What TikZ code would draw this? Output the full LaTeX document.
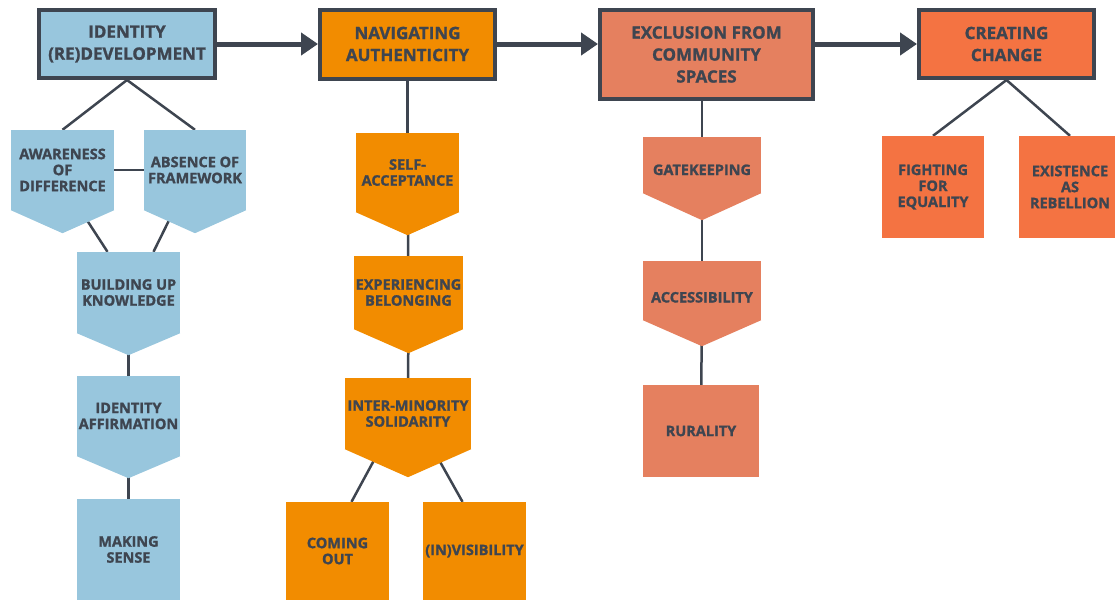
\documentclass[tikz,border=0pt]{standalone}
\usepackage{fontspec}
\setmainfont{Open Sans}[BoldFeatures={FakeBold=1.3}]
\usepackage{tikz}
\usetikzlibrary{arrows.meta}
\usetikzlibrary{backgrounds}
\definecolor{ink}{HTML}{3E4550}
\definecolor{idblue}{HTML}{98C6DD}
\definecolor{navorange}{HTML}{F28C00}
\definecolor{exsalmon}{HTML}{E5805F}
\definecolor{chred}{HTML}{F47342}

\tikzset{
  theme/.style={draw=ink, line width=4pt, fill=#1, align=center, inner sep=0pt,
    text=ink, font=\bfseries\fontsize{17}{22}\selectfont},
  sub/.style={fill=#1, align=center, inner sep=0pt, minimum width=103pt,
    text=ink, font=\bfseries\fontsize{14.5}{16}\selectfont},
  link/.style={draw=ink, line width=2.5pt},
  flow/.style={draw=ink, line width=5pt, -{Triangle[length=17pt,width=22pt]}},
}

\begin{document}
\begin{tikzpicture}[x=1pt,y=-1pt]
        \useasboundingbox (0,0) rectangle (1115,600);
        % themes
        \node[theme=idblue, minimum width=176pt, minimum height=68pt] (idd) at (127,44) {IDENTITY\\(RE)DEVELOPMENT};
        \node[theme=navorange, minimum width=175pt, minimum height=69pt] (nav) at (407.5,44) {NAVIGATING\\AUTHENTICITY};
        \node[theme=exsalmon, minimum width=213pt, minimum height=89pt] (exc) at (706.5,54.5) {EXCLUSION FROM\\COMMUNITY\\SPACES};
        \node[theme=chred, minimum width=175pt, minimum height=68pt] (cre) at (1006.5,44) {CREATING\\CHANGE};
        \draw[flow] (idd.east) -- (nav.west);
        \draw[flow] (nav.east) -- (nav.east -| exc.west);
        \draw[flow] (exc.east |- cre.west) -- (cre.west);
        %%
        \node[sub=idblue, minimum height=80pt] (aw) at (62.5,170) {AWARENESS\\OF\\DIFFERENCE};
        \node[sub=idblue, minimum width=102pt, minimum height=80pt] (ab) at (195,170) {ABSENCE OF\\FRAMEWORK};
        \node[sub=idblue, minimum height=81pt] (bu) at (128.5,292.5) {BUILDING UP\\KNOWLEDGE};
        \node[sub=idblue, minimum height=80pt] (ia) at (128.5,416) {IDENTITY\\AFFIRMATION};
        \node[sub=idblue, minimum height=101pt] (ms) at (128.5,549.5) {MAKING\\SENSE};
        %%
        \node[sub=navorange, minimum height=79pt] (sa) at (407.5,172.5) {SELF-\\ACCEPTANCE};
        \node[sub=navorange, minimum width=109pt, minimum height=73pt] (eb) at (408.5,292.5) {EXPERIENCING\\BELONGING};
        \node[sub=navorange, minimum width=126pt, minimum height=71pt] (im) at (408,413.5) {INTER-MINORITY\\SOLIDARITY};
        \node[sub=navorange, minimum height=98pt] (co) at (337.5,551) {COMING\\OUT};
        \node[sub=navorange, minimum height=98pt] (inv) at (474.5,551) {(IN)VISIBILITY};
        %%
        \node[sub=exsalmon, minimum width=118pt, minimum height=56pt, text height=20pt, text depth=0pt] (gk) at (702,165) {GATEKEEPING};
        \node[sub=exsalmon, minimum width=118pt, minimum height=59pt, text height=24pt, text depth=0pt] (ac) at (702,290.5) {ACCESSIBILITY};
        \node[sub=exsalmon, minimum width=116pt, minimum height=92pt] (ru) at (701,431) {RURALITY};
        %%
        \node[sub=chred, minimum width=102pt, minimum height=102pt] (fe) at (933,187) {FIGHTING\\FOR\\EQUALITY};
        \node[sub=chred, minimum width=102pt, minimum height=102pt] (ex) at (1070,187) {EXISTENCE\\AS\\REBELLION};
        % pointed ends
        \foreach \n/\dep/\col in {aw/23/idblue, ab/23/idblue, bu/22/idblue, ia/22/idblue,
            sa/23/navorange, eb/24/navorange, im/28/navorange, gk/27/exsalmon, ac/26/exsalmon}
          \fill[\col] (\n.south west) -- (\n.south east) -- ([yshift=-\dep pt]\n.south) -- cycle;
        %%
        \begin{scope}[on background layer]
          \draw[link] (idd.south) -- (aw.north);
          \draw[link] (idd.south) -- (ab.north);
          \draw[link] (aw.east) -- (ab.west);
          \draw[link] ([xshift=18pt]aw.south) -- ([xshift=-21pt]bu.north);
          \draw[link] ([xshift=-21pt]ab.south) -- ([xshift=25pt]bu.north);
          \draw[link] (bu) -- (ia);
          \draw[link] (ia) -- (ms);
          \draw[link] (nav) -- (sa);
          \draw[link] (sa) -- (eb);
          \draw[link] (eb) -- (im);
          \draw[link] ([xshift=-28pt]im.south) -- ([xshift=14pt]co.north);
          \draw[link] ([xshift=25pt]im.south) -- ([xshift=-12pt]inv.north);
          \draw[link] (gk |- exc) -- (gk);
          \draw[link] (gk) -- (ac);
          \draw[link] (ac) -- (ru);
          \draw[link] (cre.south) -- (fe.north);
          \draw[link] (cre.south) -- (ex.north);
        \end{scope}
    \end{tikzpicture}
\end{document}
